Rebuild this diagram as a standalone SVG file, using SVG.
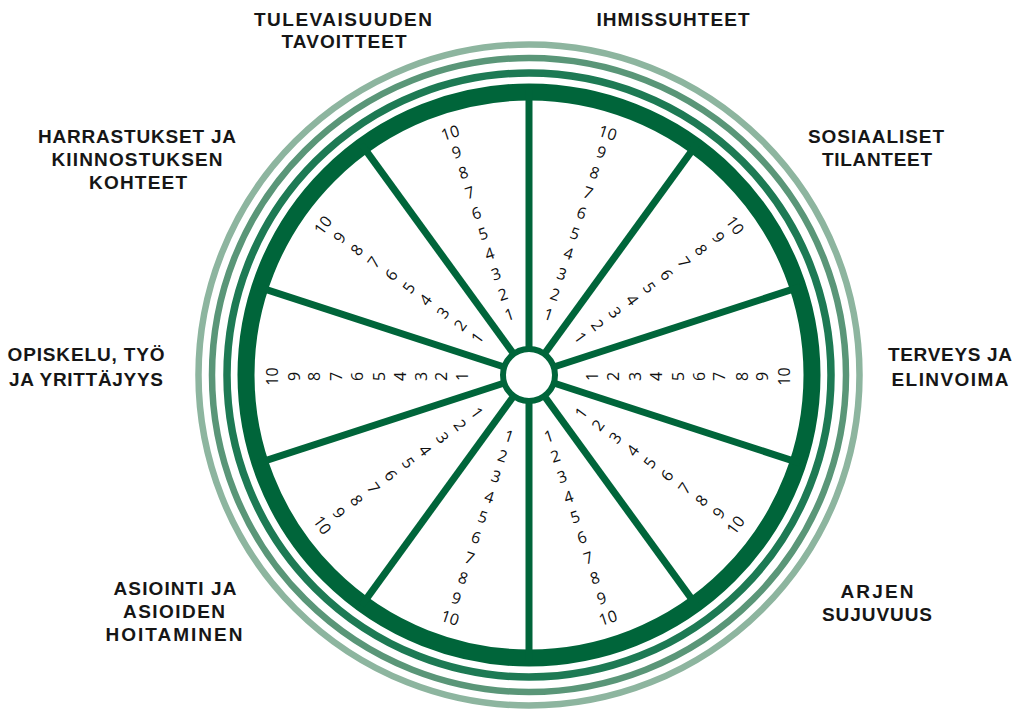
<svg xmlns="http://www.w3.org/2000/svg" width="1023" height="709" viewBox="0 0 1023 709">
<style>
.lbl{font-family:"Liberation Sans",Arial,sans-serif;font-weight:bold;font-size:19px;fill:#161616;text-anchor:middle}
.d{font-family:"Open Sans","Noto Sans",sans-serif;font-size:16px;font-weight:500;fill:#111111;text-anchor:middle;dominant-baseline:central}
.ring{fill:none}
.spoke{stroke:#00653a;stroke-width:7;stroke-linecap:butt}
</style>
<rect width="1023" height="709" fill="#ffffff"/>
<g id="rings">
<circle class="ring" cx="529" cy="375" r="330.5" stroke="#8db59f" stroke-width="6.5"/>
<circle class="ring" cx="529" cy="375" r="317" stroke="#5a9678" stroke-width="6.5"/>
<circle class="ring" cx="529" cy="375" r="302" stroke="#1d7a54" stroke-width="7.5"/>
<circle class="ring" cx="529" cy="375" r="283" stroke="#00653a" stroke-width="17"/>
</g>
<g id="connectors">
<line class="spoke" x1="529" y1="349" x2="529" y2="90"/>
<line class="spoke" x1="529" y1="349" x2="529" y2="90" transform="rotate(36 529 375)"/>
<line class="spoke" x1="529" y1="349" x2="529" y2="90" transform="rotate(72 529 375)"/>
<line class="spoke" x1="529" y1="349" x2="529" y2="90" transform="rotate(108 529 375)"/>
<line class="spoke" x1="529" y1="349" x2="529" y2="90" transform="rotate(144 529 375)"/>
<line class="spoke" x1="529" y1="349" x2="529" y2="90" transform="rotate(180 529 375)"/>
<line class="spoke" x1="529" y1="349" x2="529" y2="90" transform="rotate(216 529 375)"/>
<line class="spoke" x1="529" y1="349" x2="529" y2="90" transform="rotate(252 529 375)"/>
<line class="spoke" x1="529" y1="349" x2="529" y2="90" transform="rotate(288 529 375)"/>
<line class="spoke" x1="529" y1="349" x2="529" y2="90" transform="rotate(324 529 375)"/>
</g>
<g id="hub">
<circle cx="529" cy="375" r="26" fill="#ffffff" stroke="#00653a" stroke-width="6"/>
</g>

<g id="sector-ihmissuhteet">
<text class="d" transform="translate(548.8 314.1) rotate(18)">1</text>
<text class="d" transform="translate(555.3 294.2) rotate(18)">2</text>
<text class="d" transform="translate(561.9 273.7) rotate(18)">3</text>
<text class="d" transform="translate(568.6 253.3) rotate(18)">4</text>
<text class="d" transform="translate(575.0 233.3) rotate(18)">5</text>
<text class="d" transform="translate(581.7 212.8) rotate(18)">6</text>
<text class="d" transform="translate(588.3 192.4) rotate(18)">7</text>
<text class="d" transform="translate(594.8 172.4) rotate(18)">8</text>
<text class="d" transform="translate(601.5 152.0) rotate(18)">9</text>
<text class="d" transform="translate(607.8 132.5) rotate(18)">10</text>
<text class="lbl" x="673" y="26" textLength="153">IHMISSUHTEET</text>
</g>

<g id="sector-sosiaaliset">
<text class="d" transform="translate(580.8 337.4) rotate(54)">1</text>
<text class="d" transform="translate(597.8 325.0) rotate(54)">2</text>
<text class="d" transform="translate(615.2 312.4) rotate(54)">3</text>
<text class="d" transform="translate(632.6 299.8) rotate(54)">4</text>
<text class="d" transform="translate(649.5 287.4) rotate(54)">5</text>
<text class="d" transform="translate(666.9 274.8) rotate(54)">6</text>
<text class="d" transform="translate(684.3 262.1) rotate(54)">7</text>
<text class="d" transform="translate(701.3 249.8) rotate(54)">8</text>
<text class="d" transform="translate(718.7 237.2) rotate(54)">9</text>
<text class="d" transform="translate(735.3 225.1) rotate(54)">10</text>
<text class="lbl" x="876" y="143" textLength="136">SOSIAALISET</text>
<text class="lbl" x="877" y="166" textLength="110">TILANTEET</text>
</g>

<g id="sector-terveys">
<text class="d" transform="translate(592 376.5) rotate(-90)">1</text>
<text class="d" transform="translate(613 376.5) rotate(-90)">2</text>
<text class="d" transform="translate(635 376.5) rotate(-90)">3</text>
<text class="d" transform="translate(656 376.5) rotate(-90)">4</text>
<text class="d" transform="translate(677.5 376.5) rotate(-90)">5</text>
<text class="d" transform="translate(698.5 376.5) rotate(-90)">6</text>
<text class="d" transform="translate(719 376.5) rotate(-90)">7</text>
<text class="d" transform="translate(741.5 376.5) rotate(-90)">8</text>
<text class="d" transform="translate(762 376.5) rotate(-90)">9</text>
<text class="d" transform="translate(784 376.5) rotate(-90)">10</text>
<text class="lbl" x="950" y="361" textLength="124">TERVEYS JA</text>
<text class="lbl" x="950" y="386" textLength="117">ELINVOIMA</text>
</g>

<g id="sector-arjen">
<text class="d" transform="translate(580.8 412.6) rotate(-54)">1</text>
<text class="d" transform="translate(597.8 425.0) rotate(-54)">2</text>
<text class="d" transform="translate(615.2 437.6) rotate(-54)">3</text>
<text class="d" transform="translate(632.6 450.2) rotate(-54)">4</text>
<text class="d" transform="translate(649.5 462.6) rotate(-54)">5</text>
<text class="d" transform="translate(666.9 475.2) rotate(-54)">6</text>
<text class="d" transform="translate(684.3 487.9) rotate(-54)">7</text>
<text class="d" transform="translate(701.3 500.2) rotate(-54)">8</text>
<text class="d" transform="translate(718.7 512.8) rotate(-54)">9</text>
<text class="d" transform="translate(735.3 524.9) rotate(-54)">10</text>
<text class="lbl" x="877" y="598" textLength="73">ARJEN</text>
<text class="lbl" x="877" y="621" textLength="110">SUJUVUUS</text>
</g>

<g id="sector-bottom-right">
<text class="d" transform="translate(548.8 435.9) rotate(-18)">1</text>
<text class="d" transform="translate(555.3 455.8) rotate(-18)">2</text>
<text class="d" transform="translate(561.9 476.3) rotate(-18)">3</text>
<text class="d" transform="translate(568.6 496.7) rotate(-18)">4</text>
<text class="d" transform="translate(575.0 516.7) rotate(-18)">5</text>
<text class="d" transform="translate(581.7 537.2) rotate(-18)">6</text>
<text class="d" transform="translate(588.3 557.6) rotate(-18)">7</text>
<text class="d" transform="translate(594.8 577.6) rotate(-18)">8</text>
<text class="d" transform="translate(601.5 598.0) rotate(-18)">9</text>
<text class="d" transform="translate(607.8 617.5) rotate(-18)">10</text>
</g>

<g id="sector-bottom-left">
<text class="d" transform="translate(509.2 435.9) rotate(18)">1</text>
<text class="d" transform="translate(502.7 455.8) rotate(18)">2</text>
<text class="d" transform="translate(496.1 476.3) rotate(18)">3</text>
<text class="d" transform="translate(489.4 496.7) rotate(18)">4</text>
<text class="d" transform="translate(483.0 516.7) rotate(18)">5</text>
<text class="d" transform="translate(476.3 537.2) rotate(18)">6</text>
<text class="d" transform="translate(469.7 557.6) rotate(18)">7</text>
<text class="d" transform="translate(463.2 577.6) rotate(18)">8</text>
<text class="d" transform="translate(456.5 598.0) rotate(18)">9</text>
<text class="d" transform="translate(450.2 617.5) rotate(18)">10</text>
</g>

<g id="sector-asiointi">
<text class="d" transform="translate(477.2 412.6) rotate(54)">1</text>
<text class="d" transform="translate(460.2 425.0) rotate(54)">2</text>
<text class="d" transform="translate(442.8 437.6) rotate(54)">3</text>
<text class="d" transform="translate(425.4 450.2) rotate(54)">4</text>
<text class="d" transform="translate(408.5 462.6) rotate(54)">5</text>
<text class="d" transform="translate(391.1 475.2) rotate(54)">6</text>
<text class="d" transform="translate(373.7 487.9) rotate(54)">7</text>
<text class="d" transform="translate(356.7 500.2) rotate(54)">8</text>
<text class="d" transform="translate(339.3 512.8) rotate(54)">9</text>
<text class="d" transform="translate(322.7 524.9) rotate(54)">10</text>
<text class="lbl" x="175" y="595" textLength="123">ASIOINTI JA</text>
<text class="lbl" x="174" y="618" textLength="102">ASIOIDEN</text>
<text class="lbl" x="174" y="641" textLength="137">HOITAMINEN</text>
</g>

<g id="sector-opiskelu">
<text class="d" transform="translate(462 376.5) rotate(-90)">1</text>
<text class="d" transform="translate(441 376.5) rotate(-90)">2</text>
<text class="d" transform="translate(421 376.5) rotate(-90)">3</text>
<text class="d" transform="translate(400 376.5) rotate(-90)">4</text>
<text class="d" transform="translate(379 376.5) rotate(-90)">5</text>
<text class="d" transform="translate(357 376.5) rotate(-90)">6</text>
<text class="d" transform="translate(336 376.5) rotate(-90)">7</text>
<text class="d" transform="translate(314 376.5) rotate(-90)">8</text>
<text class="d" transform="translate(293.5 376.5) rotate(-90)">9</text>
<text class="d" transform="translate(272 376.5) rotate(-90)">10</text>
<text class="lbl" x="86" y="361" textLength="157">OPISKELU, TYÖ</text>
<text class="lbl" x="86" y="386" textLength="154">JA YRITTÄJYYS</text>
</g>

<g id="sector-harrastukset">
<text class="d" transform="translate(477.2 337.4) rotate(-54)">1</text>
<text class="d" transform="translate(460.2 325.0) rotate(-54)">2</text>
<text class="d" transform="translate(442.8 312.4) rotate(-54)">3</text>
<text class="d" transform="translate(425.4 299.8) rotate(-54)">4</text>
<text class="d" transform="translate(408.5 287.4) rotate(-54)">5</text>
<text class="d" transform="translate(391.1 274.8) rotate(-54)">6</text>
<text class="d" transform="translate(373.7 262.1) rotate(-54)">7</text>
<text class="d" transform="translate(356.7 249.8) rotate(-54)">8</text>
<text class="d" transform="translate(339.3 237.2) rotate(-54)">9</text>
<text class="d" transform="translate(322.7 225.1) rotate(-54)">10</text>
<text class="lbl" x="137" y="143" textLength="198">HARRASTUKSET JA</text>
<text class="lbl" x="137" y="166" textLength="171">KIINNOSTUKSEN</text>
<text class="lbl" x="138" y="189" textLength="98">KOHTEET</text>
</g>

<g id="sector-tulevaisuuden">
<text class="d" transform="translate(509.2 314.1) rotate(-18)">1</text>
<text class="d" transform="translate(502.7 294.2) rotate(-18)">2</text>
<text class="d" transform="translate(496.1 273.7) rotate(-18)">3</text>
<text class="d" transform="translate(489.4 253.3) rotate(-18)">4</text>
<text class="d" transform="translate(483.0 233.3) rotate(-18)">5</text>
<text class="d" transform="translate(476.3 212.8) rotate(-18)">6</text>
<text class="d" transform="translate(469.7 192.4) rotate(-18)">7</text>
<text class="d" transform="translate(463.2 172.4) rotate(-18)">8</text>
<text class="d" transform="translate(456.5 152.0) rotate(-18)">9</text>
<text class="d" transform="translate(450.2 132.5) rotate(-18)">10</text>
<text class="lbl" x="343" y="26" textLength="178">TULEVAISUUDEN</text>
<text class="lbl" x="344" y="48" textLength="125">TAVOITTEET</text>
</g>
</svg>
